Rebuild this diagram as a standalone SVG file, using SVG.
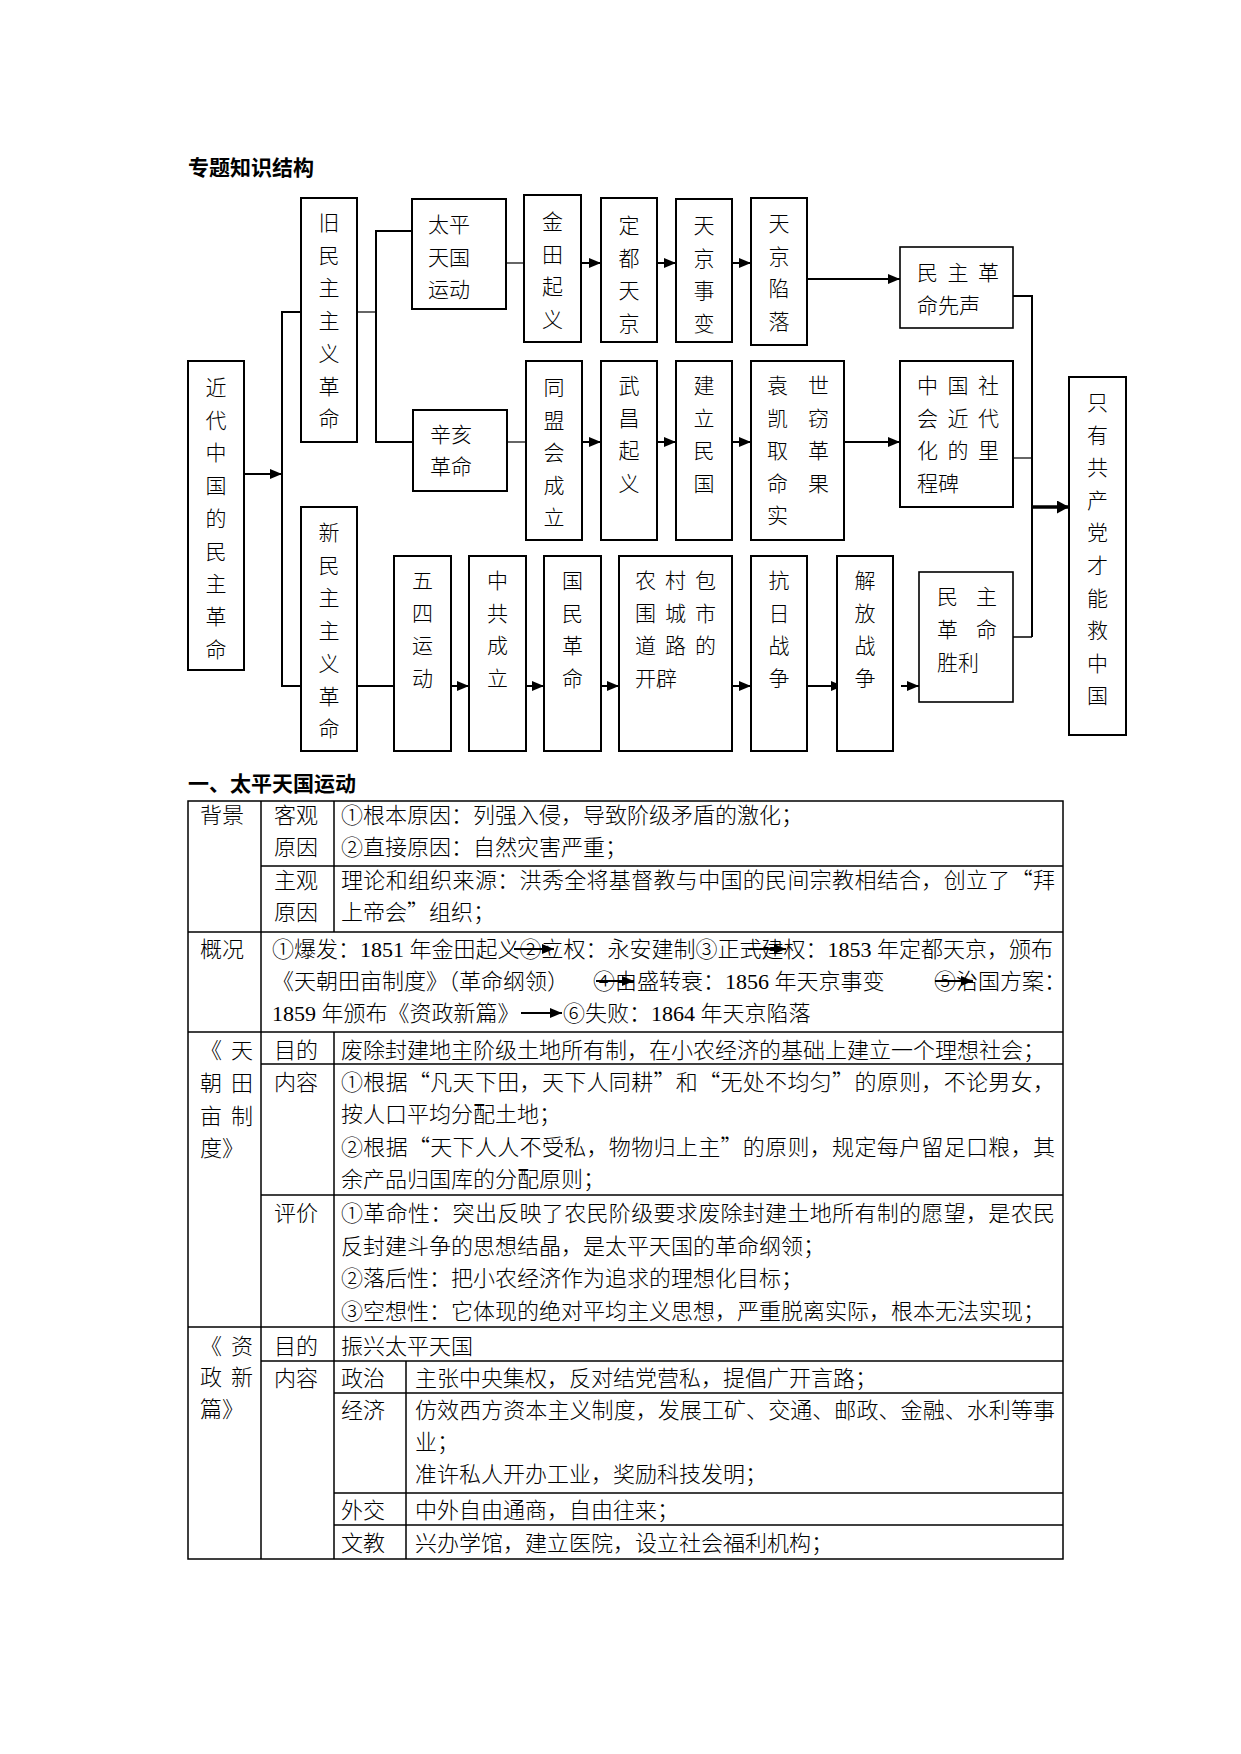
<svg xmlns="http://www.w3.org/2000/svg" width="1241" height="1754" viewBox="0 0 1241 1754">
<style>
.bg{fill:#fff}
.b{fill:#fff;stroke:#000;stroke-width:2}
.t{font-family:"Noto Sans CJK SC","Noto Sans",sans-serif;font-size:21px;font-weight:300;fill:#000}
.m{text-anchor:middle}
.h{font-family:"Noto Sans CJK SC","Noto Sans",sans-serif;font-size:21px;font-weight:bold;fill:#000}
.tb{font-family:"Noto Sans CJK SC","Noto Sans",sans-serif;font-size:22px;font-weight:300;fill:#000}
.n{font-family:"Liberation Serif",serif;font-weight:normal}
.c{stroke:#000;stroke-width:2;fill:none}
.c1{stroke:#000;stroke-width:1.2;fill:none}
.c3{stroke:#000;stroke-width:3.5;fill:none}
.g{stroke:#000;stroke-width:1.5;fill:none}
</style>
<defs>
<marker id="ah" markerUnits="userSpaceOnUse" markerWidth="13" markerHeight="10" refX="12" refY="5" orient="auto"><path d="M0,0 L12,5 L0,10 z" fill="#000"/></marker>
<marker id="ahb" markerUnits="userSpaceOnUse" markerWidth="13" markerHeight="13" refX="12" refY="6.5" orient="auto"><path d="M0,0 L12,6.5 L0,13 z" fill="#000"/></marker>
</defs>
<rect class="bg" x="0" y="0" width="1241" height="1754"/>

<text id="title" class="h" x="188" y="175">专题知识结构</text>

<g id="connectors">
<line class="c" x1="244" y1="474" x2="282" y2="474" marker-end="url(#ah)"/>
<polyline class="c" points="301,312 282,312 282,686 301,686"/>
<line class="c1" x1="357" y1="312" x2="376" y2="312"/>
<polyline class="c" points="412,231 376,231 376,442 413,442"/>
<line class="c1" x1="506" y1="263" x2="524" y2="263"/>
<line class="c1" x1="507" y1="442" x2="526" y2="442"/>
<line class="c" x1="581" y1="263" x2="601" y2="263" marker-end="url(#ah)"/>
<line class="c" x1="657" y1="263" x2="676" y2="263" marker-end="url(#ah)"/>
<line class="c" x1="732" y1="263" x2="751" y2="263" marker-end="url(#ah)"/>
<line class="c" x1="807" y1="279" x2="900" y2="279" marker-end="url(#ah)"/>
<line class="c" x1="582" y1="442" x2="601" y2="442" marker-end="url(#ah)"/>
<line class="c" x1="657" y1="442" x2="676" y2="442" marker-end="url(#ah)"/>
<line class="c" x1="732" y1="442" x2="751" y2="442" marker-end="url(#ah)"/>
<line class="c" x1="844" y1="442" x2="900" y2="442" marker-end="url(#ah)"/>
<line class="c" x1="357" y1="686" x2="394" y2="686"/>
<line class="c" x1="451" y1="686" x2="469" y2="686" marker-end="url(#ah)"/>
<line class="c" x1="526" y1="686" x2="544" y2="686" marker-end="url(#ah)"/>
<line class="c" x1="601" y1="686" x2="619" y2="686" marker-end="url(#ah)"/>
<line class="c" x1="732" y1="686" x2="751" y2="686" marker-end="url(#ah)"/>
<line class="c" x1="807" y1="686" x2="843" y2="686" marker-end="url(#ah)"/>
<line class="c" x1="901" y1="686" x2="919" y2="686" marker-end="url(#ah)"/>
<polyline class="c" points="1013,296 1032,296 1032,637"/>
<line class="c1" x1="1013" y1="458" x2="1032" y2="458"/>
<line class="g" x1="1013" y1="637" x2="1032" y2="637"/>
<line class="c3" x1="1032" y1="507" x2="1069" y2="507" marker-end="url(#ahb)"/>
</g>

<g id="n-jindai"><rect class="b" x="188" y="361" width="56" height="309"/>
<text class="t m"><tspan x="216" y="395">近</tspan><tspan x="216" y="427.7">代</tspan><tspan x="216" y="460.4">中</tspan><tspan x="216" y="493.1">国</tspan><tspan x="216" y="525.8">的</tspan><tspan x="216" y="558.5">民</tspan><tspan x="216" y="591.2">主</tspan><tspan x="216" y="623.9">革</tspan><tspan x="216" y="656.6">命</tspan></text></g>

<g id="n-jiu"><rect class="b" x="301" y="198" width="56" height="244"/>
<text class="t m"><tspan x="329" y="230">旧</tspan><tspan x="329" y="262.7">民</tspan><tspan x="329" y="295.4">主</tspan><tspan x="329" y="328.1">主</tspan><tspan x="329" y="360.8">义</tspan><tspan x="329" y="393.5">革</tspan><tspan x="329" y="426.2">命</tspan></text></g>

<g id="n-xin"><rect class="b" x="301" y="507" width="56" height="244"/>
<text class="t m"><tspan x="329" y="540">新</tspan><tspan x="329" y="572.7">民</tspan><tspan x="329" y="605.4">主</tspan><tspan x="329" y="638.1">主</tspan><tspan x="329" y="670.8">义</tspan><tspan x="329" y="703.5">革</tspan><tspan x="329" y="736.2">命</tspan></text></g>

<g id="n-taiping"><rect class="b" x="412" y="199" width="94" height="110"/>
<text class="t"><tspan x="428" y="232">太平</tspan><tspan x="428" y="265">天国</tspan><tspan x="428" y="297">运动</tspan></text></g>

<g id="n-xinhai"><rect class="b" x="413" y="410" width="94" height="81"/>
<text class="t"><tspan x="430" y="442">辛亥</tspan><tspan x="430" y="474">革命</tspan></text></g>

<g id="n-jintian"><rect class="b" x="524" y="195" width="57" height="147"/>
<text class="t m"><tspan x="552.5" y="229">金</tspan><tspan x="552.5" y="261.5">田</tspan><tspan x="552.5" y="294">起</tspan><tspan x="552.5" y="326.5">义</tspan></text></g>

<g id="n-dingdu"><rect class="b" x="601" y="198" width="56" height="144"/>
<text class="t m"><tspan x="629" y="233">定</tspan><tspan x="629" y="265.5">都</tspan><tspan x="629" y="298">天</tspan><tspan x="629" y="330.5">京</tspan></text></g>

<g id="n-shibian"><rect class="b" x="676" y="199" width="56" height="143"/>
<text class="t m"><tspan x="704" y="233">天</tspan><tspan x="704" y="265.5">京</tspan><tspan x="704" y="298">事</tspan><tspan x="704" y="330.5">变</tspan></text></g>

<g id="n-xianluo"><rect class="b" x="751" y="198" width="56" height="147"/>
<text class="t m"><tspan x="779" y="231">天</tspan><tspan x="779" y="263.5">京</tspan><tspan x="779" y="296">陷</tspan><tspan x="779" y="328.5">落</tspan></text></g>

<g id="n-xiansheng"><rect class="b" x="900" y="247" width="113" height="81" style="stroke-width:1.6"/>
<text class="t" x="917" y="280" textLength="82" lengthAdjust="spacing">民主革</text>
<text class="t" x="917" y="313">命先声</text></g>

<g id="n-tongmeng"><rect class="b" x="526" y="361" width="56" height="179"/>
<text class="t m"><tspan x="554" y="395">同</tspan><tspan x="554" y="427.5">盟</tspan><tspan x="554" y="460">会</tspan><tspan x="554" y="492.5">成</tspan><tspan x="554" y="525">立</tspan></text></g>

<g id="n-wuchang"><rect class="b" x="601" y="361" width="56" height="179"/>
<text class="t m"><tspan x="629" y="393">武</tspan><tspan x="629" y="425.5">昌</tspan><tspan x="629" y="458">起</tspan><tspan x="629" y="490.5">义</tspan></text></g>

<g id="n-minguo"><rect class="b" x="676" y="361" width="56" height="179"/>
<text class="t m"><tspan x="704" y="393">建</tspan><tspan x="704" y="425.5">立</tspan><tspan x="704" y="458">民</tspan><tspan x="704" y="490.5">国</tspan></text></g>

<g id="n-yuan"><rect class="b" x="751" y="361" width="93" height="179"/>
<text class="t" x="767" y="393" textLength="62" lengthAdjust="spacing">袁世</text>
<text class="t" x="767" y="425.5" textLength="62" lengthAdjust="spacing">凯窃</text>
<text class="t" x="767" y="458" textLength="62" lengthAdjust="spacing">取革</text>
<text class="t" x="767" y="490.5" textLength="62" lengthAdjust="spacing">命果</text>
<text class="t" x="767" y="523">实</text></g>

<g id="n-licheng"><rect class="b" x="900" y="361" width="113" height="146"/>
<text class="t" x="917" y="393" textLength="82" lengthAdjust="spacing">中国社</text>
<text class="t" x="917" y="425.7" textLength="82" lengthAdjust="spacing">会近代</text>
<text class="t" x="917" y="458.4" textLength="82" lengthAdjust="spacing">化的里</text>
<text class="t" x="917" y="491.1">程碑</text></g>

<g id="n-zhiyou"><rect class="b" x="1069" y="377" width="57" height="358"/>
<text class="t m"><tspan x="1097.5" y="410">只</tspan><tspan x="1097.5" y="442.6">有</tspan><tspan x="1097.5" y="475.2">共</tspan><tspan x="1097.5" y="507.8">产</tspan><tspan x="1097.5" y="540.4">党</tspan><tspan x="1097.5" y="573">才</tspan><tspan x="1097.5" y="605.6">能</tspan><tspan x="1097.5" y="638.2">救</tspan><tspan x="1097.5" y="670.8">中</tspan><tspan x="1097.5" y="703.4">国</tspan></text></g>

<g id="n-wusi"><rect class="b" x="394" y="556" width="57" height="195"/>
<text class="t m"><tspan x="422.5" y="588">五</tspan><tspan x="422.5" y="620.7">四</tspan><tspan x="422.5" y="653.4">运</tspan><tspan x="422.5" y="686">动</tspan></text></g>

<g id="n-zhonggong"><rect class="b" x="469" y="556" width="57" height="195"/>
<text class="t m"><tspan x="497.5" y="588">中</tspan><tspan x="497.5" y="620.7">共</tspan><tspan x="497.5" y="653.4">成</tspan><tspan x="497.5" y="686">立</tspan></text></g>

<g id="n-guomin"><rect class="b" x="544" y="556" width="57" height="195"/>
<text class="t m"><tspan x="572.5" y="588">国</tspan><tspan x="572.5" y="620.7">民</tspan><tspan x="572.5" y="653.4">革</tspan><tspan x="572.5" y="686">命</tspan></text></g>

<g id="n-nongcun"><rect class="b" x="619" y="556" width="113" height="195"/>
<text class="t" x="635" y="588" textLength="81" lengthAdjust="spacing">农村包</text>
<text class="t" x="635" y="620.7" textLength="81" lengthAdjust="spacing">围城市</text>
<text class="t" x="635" y="653.4" textLength="81" lengthAdjust="spacing">道路的</text>
<text class="t" x="635" y="686">开辟</text></g>

<g id="n-kangri"><rect class="b" x="751" y="556" width="56" height="195"/>
<text class="t m"><tspan x="779" y="588">抗</tspan><tspan x="779" y="620.7">日</tspan><tspan x="779" y="653.4">战</tspan><tspan x="779" y="686">争</tspan></text></g>

<g id="n-jiefang"><rect class="b" x="837" y="556" width="56" height="195"/>
<text class="t m"><tspan x="865" y="588">解</tspan><tspan x="865" y="620.7">放</tspan><tspan x="865" y="653.4">战</tspan><tspan x="865" y="686">争</tspan></text></g>

<g id="n-shengli"><rect class="b" x="919" y="572" width="94" height="130" style="stroke-width:1.6"/>
<text class="t" x="937" y="604" textLength="60" lengthAdjust="spacing">民主</text>
<text class="t" x="937" y="637" textLength="60" lengthAdjust="spacing">革命</text>
<text class="t" x="937" y="670">胜利</text></g>

<text id="heading" class="h" x="188" y="791">一、太平天国运动</text>

<g id="table">
<rect class="g" x="188" y="801" width="875" height="758"/>
<line class="g" x1="261" y1="801" x2="261" y2="1559"/>
<line class="g" x1="334" y1="801" x2="334" y2="932"/>
<line class="g" x1="334" y1="1032" x2="334" y2="1559"/>
<line class="g" x1="406" y1="1361" x2="406" y2="1559"/>
<line class="g" x1="261" y1="866" x2="1063" y2="866"/>
<line class="g" x1="188" y1="932" x2="1063" y2="932"/>
<line class="g" x1="188" y1="1032" x2="1063" y2="1032"/>
<line class="g" x1="261" y1="1064" x2="1063" y2="1064"/>
<line class="g" x1="261" y1="1195" x2="1063" y2="1195"/>
<line class="g" x1="188" y1="1327" x2="1063" y2="1327"/>
<line class="g" x1="261" y1="1361" x2="1063" y2="1361"/>
<line class="g" x1="334" y1="1393" x2="1063" y2="1393"/>
<line class="g" x1="334" y1="1493" x2="1063" y2="1493"/>
<line class="g" x1="334" y1="1525" x2="1063" y2="1525"/>

<text class="tb" x="200" y="823">背景</text>
<text class="tb" x="274" y="823">客观</text>
<text class="tb" x="274" y="855">原因</text>
<text class="tb" x="341" y="823">①根本原因：列强入侵，导致阶级矛盾的激化；</text>
<text class="tb" x="341" y="855">②直接原因：自然灾害严重；</text>
<text class="tb" x="274" y="888">主观</text>
<text class="tb" x="274" y="920">原因</text>
<text class="tb" x="341" y="888" textLength="714" lengthAdjust="spacing">理论和组织来源：洪秀全将基督教与中国的民间宗教相结合，创立了“拜</text>
<text class="tb" x="341" y="920">上帝会”组织；</text>

<text class="tb" x="200" y="957">概况</text>
<text class="tb" x="272" y="957" textLength="781" lengthAdjust="spacing">①爆发：<tspan class="n">1851 </tspan>年金田起义②立权：永安建制③正式建权：<tspan class="n">1853 </tspan>年定都天京，颁布</text>
<text class="tb" x="272" y="989">《天朝田亩制度》（革命纲领）</text>
<text class="tb" x="593" y="989">④由盛转衰：<tspan class="n">1856 </tspan>年天京事变</text>
<text class="tb" x="934" y="989">⑤治国方案：</text>
<text class="tb" x="272" y="1021"><tspan class="n">1859 </tspan>年颁布《资政新篇》</text>
<text class="tb" x="563" y="1021">⑥失败：<tspan class="n">1864 </tspan>年天京陷落</text>
<line class="c" x1="514" y1="949" x2="554" y2="949" marker-end="url(#ah)"/>
<line class="c" x1="748" y1="949" x2="786" y2="949" marker-end="url(#ah)"/>
<line class="c" x1="596" y1="981" x2="634" y2="981" marker-end="url(#ah)"/>
<line class="c" x1="935" y1="981" x2="973" y2="981" marker-end="url(#ah)"/>
<line class="c" x1="521" y1="1013" x2="562" y2="1013" marker-end="url(#ah)"/>

<text class="tb" x="200" y="1058" textLength="53" lengthAdjust="spacing">《天</text>
<text class="tb" x="200" y="1091" textLength="53" lengthAdjust="spacing">朝田</text>
<text class="tb" x="200" y="1124" textLength="53" lengthAdjust="spacing">亩制</text>
<text class="tb" x="200" y="1156">度》</text>
<text class="tb" x="274" y="1058">目的</text>
<text class="tb" x="341" y="1058">废除封建地主阶级土地所有制，在小农经济的基础上建立一个理想社会；</text>
<text class="tb" x="274" y="1090">内容</text>
<text class="tb" x="341" y="1090" textLength="714" lengthAdjust="spacing">①根据“凡天下田，天下人同耕”和“无处不均匀”的原则，不论男女，</text>
<text class="tb" x="341" y="1122">按人口平均分配土地；</text>
<text class="tb" x="341" y="1155" textLength="714" lengthAdjust="spacing">②根据“天下人人不受私，物物归上主”的原则，规定每户留足口粮，其</text>
<text class="tb" x="341" y="1187">余产品归国库的分配原则；</text>
<text class="tb" x="274" y="1221">评价</text>
<text class="tb" x="341" y="1221" textLength="714" lengthAdjust="spacing">①革命性：突出反映了农民阶级要求废除封建土地所有制的愿望，是农民</text>
<text class="tb" x="341" y="1254">反封建斗争的思想结晶，是太平天国的革命纲领；</text>
<text class="tb" x="341" y="1286">②落后性：把小农经济作为追求的理想化目标；</text>
<text class="tb" x="341" y="1319">③空想性：它体现的绝对平均主义思想，严重脱离实际，根本无法实现；</text>

<text class="tb" x="200" y="1354" textLength="53" lengthAdjust="spacing">《资</text>
<text class="tb" x="200" y="1385" textLength="53" lengthAdjust="spacing">政新</text>
<text class="tb" x="200" y="1417">篇》</text>
<text class="tb" x="274" y="1354">目的</text>
<text class="tb" x="341" y="1354">振兴太平天国</text>
<text class="tb" x="274" y="1386">内容</text>
<text class="tb" x="341" y="1386">政治</text>
<text class="tb" x="415" y="1386">主张中央集权，反对结党营私，提倡广开言路；</text>
<text class="tb" x="341" y="1418">经济</text>
<text class="tb" x="415" y="1418" textLength="640" lengthAdjust="spacing">仿效西方资本主义制度，发展工矿、交通、邮政、金融、水利等事</text>
<text class="tb" x="415" y="1450">业；</text>
<text class="tb" x="415" y="1482">准许私人开办工业，奖励科技发明；</text>
<text class="tb" x="341" y="1518">外交</text>
<text class="tb" x="415" y="1518">中外自由通商，自由往来；</text>
<text class="tb" x="341" y="1551">文教</text>
<text class="tb" x="415" y="1551">兴办学馆，建立医院，设立社会福利机构；</text>
</g>
</svg>
